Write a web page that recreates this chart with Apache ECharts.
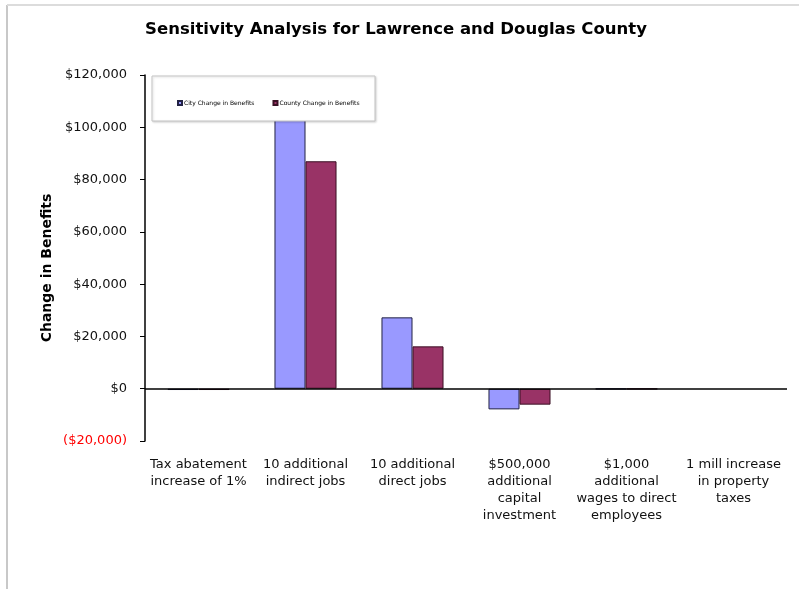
<!DOCTYPE html>
<html>
<head>
<meta charset="utf-8">
<script src="https://cdn.jsdelivr.net/npm/echarts@6/dist/echarts.min.js"></script>
<style>
  html, body { margin: 0; padding: 0; background: #fff; }
  #chart { width: 799px; height: 589px; }
</style>
</head>
<body>
<div id="chart"></div>
<script>
// Scenario labels along the category axis
var categories = [
  'Tax abatement\nincrease of 1%',
  '10 additional\nindirect jobs',
  '10 additional\ndirect jobs',
  '$500,000\nadditional\ncapital\ninvestment',
  '$1,000\nadditional\nwages to direct\nemployees',
  '1 mill increase\nin property\ntaxes'
];

// Change in benefits per scenario
var cityChange = [-500, 110000, 27300, -7900, -150, 0];
var countyChange = [-500, 87000, 16200, -6100, -150, 0];

var seriesNames = ['City Change in Benefits', 'County Change in Benefits'];

function money(v) {
  var s = '$' + Math.abs(v).toLocaleString('en-US');
  return v < 0 ? '{neg|(' + s + ')}' : s;
}

// zero-valued bars get no outline so nothing is drawn for them
function barData(values) {
  return values.map(function (v) {
    return v === 0 ? { value: v, itemStyle: { borderWidth: 0, opacity: 0 } } : v;
  });
}

var chart = echarts.init(document.getElementById('chart'));
chart.setOption({
  animation: false,
  backgroundColor: '#fff',
  title: {
    text: 'Sensitivity Analysis for Lawrence and Douglas County',
    left: 391,
    top: 16,
    textAlign: 'center',
    textStyle: { fontFamily: 'DejaVu Sans', fontWeight: 'bold', fontSize: 16.5, color: '#000' }
  },
  graphic: [
    { type: 'line', z: 10, shape: { x1: 7, y1: 5, x2: 7, y2: 589 }, style: { stroke: '#c8c8c8', lineWidth: 2 } },
    { type: 'line', z: 10, shape: { x1: 7, y1: 5, x2: 799, y2: 5 }, style: { stroke: '#dcdcdc', lineWidth: 2 } },
    {
      type: 'rect', z: 3,
      shape: { x: 152, y: 76, width: 223, height: 45 },
      style: { fill: '#fff', stroke: '#c4c4c4', lineWidth: 1, shadowBlur: 2, shadowColor: 'rgba(0,0,0,0.15)', shadowOffsetX: 1, shadowOffsetY: 1 }
    },
    {
      type: 'text', z: 10,
      x: 47, y: 268, rotation: Math.PI / 2,
      style: {
        text: 'Change in Benefits',
        x: 0, y: 0,
        align: 'center', verticalAlign: 'middle',
        font: 'bold 14px "DejaVu Sans"',
        fill: '#000'
      }
    }
  ],
  legend: {
    data: seriesNames,
    left: 172,
    top: 95,
    z: 5,
    itemWidth: 4,
    itemHeight: 4,
    itemGap: 18,
    icon: 'rect',
    textStyle: { fontFamily: 'DejaVu Sans', fontSize: 6, color: '#000', padding: [0, 0, 0, -3] }
  },
  grid: { left: 145, right: 12, top: 75, bottom: 148, containLabel: false },
  xAxis: {
    type: 'category',
    data: categories,
    axisLine: { show: false },
    axisTick: { show: false },
    axisLabel: {
      interval: 0,
      margin: 15,
      fontFamily: 'DejaVu Sans',
      fontSize: 13,
      lineHeight: 17,
      color: '#111'
    }
  },
  yAxis: {
    type: 'value',
    min: -20000,
    max: 120000,
    interval: 20000,
    axisLine: { show: true, lineStyle: { color: '#000', width: 1.5 } },
    axisTick: { show: true, length: 5, lineStyle: { color: '#000', width: 1 } },
    splitLine: { show: false },
    axisLabel: {
      margin: 18,
      fontFamily: 'DejaVu Sans',
      fontSize: 13,
      color: '#111',
      formatter: money,
      rich: { neg: { color: '#ff0000', fontFamily: 'DejaVu Sans', fontSize: 13 } }
    }
  },
  series: [
    {
      name: seriesNames[0],
      type: 'bar',
      data: barData(cityChange),
      barGap: '0%',
      barCategoryGap: '42%',
      itemStyle: { color: '#9999ff', borderColor: '#222244', borderWidth: 1 },
      markLine: {
        silent: true,
        symbol: 'none',
        label: { show: false },
        lineStyle: { color: '#000', type: 'solid', width: 1.5 },
        data: [{ yAxis: 0 }]
      }
    },
    {
      name: seriesNames[1],
      type: 'bar',
      data: barData(countyChange),
      itemStyle: { color: '#993366', borderColor: '#3a1024', borderWidth: 1 }
    }
  ]
});
</script>
</body>
</html>
